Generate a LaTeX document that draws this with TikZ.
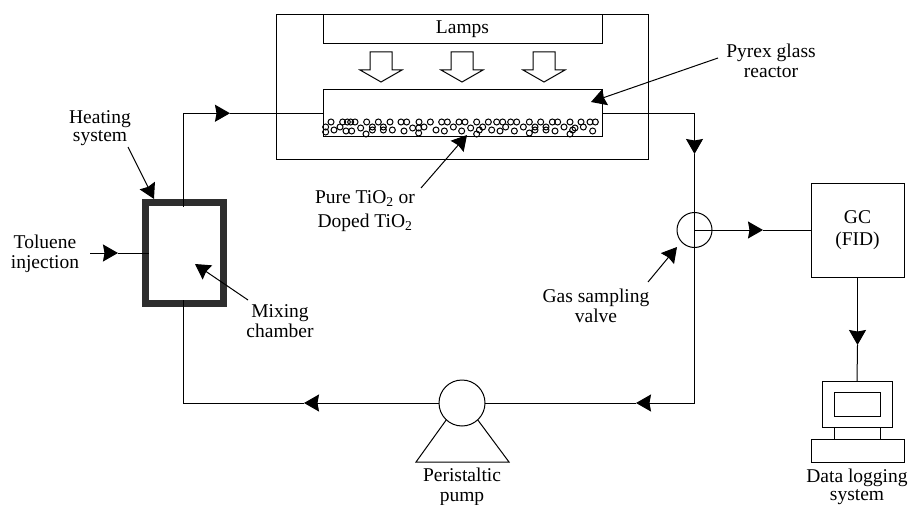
\documentclass[tikz,border=0pt]{standalone}
\usepackage{fontspec}
\setmainfont{Liberation Serif}
\usetikzlibrary{arrows.meta}
\begin{document}
\begin{tikzpicture}[x=1pt,y=-1pt,line width=1pt,
    arrow/.style = {-{Stealth[length=15pt,width=17pt,inset=1.5pt]}},
    box/.style = {draw,inner sep=0pt,outer sep=0pt},
    lbl/.style = {align=center,inner sep=0pt,font=\fontsize{19.5}{20}\selectfont},
    bead/.style = {line width=1pt}]
    \useasboundingbox (0,0) rectangle (909,505);

    \node[box,minimum width=372pt,minimum height=145.5pt] (housing) at (462,87.25) {};
    \node[box,minimum width=279pt,minimum height=29.5pt,lbl] (lamps) at (462.5,29.25) {Lamps};
    \node[box,minimum width=279pt,minimum height=46.5pt] (reactor) at (462.5,113.25) {};
    \foreach \cx in {381,462,544}
        \draw[shift={(\cx,0)}] (-11,52) -- (11,52) -- (11,70) -- (21,70) -- (0,82) -- (-21,70) -- (-11,70) -- cycle;

    \foreach \bx in {213,248,262,272,285,320,355,390,423,440,477,511,545,562,597,615,650,685,710,728,752,770,808,842,877,893,930,963,990,1006}
        \draw[bead] ({260+\bx/3},122) circle (3pt);
    \foreach \bx/\by in {197/127,197/132,222/130,240/127,258/131,275/131,302/128,318/134,337/130,337/127,370/130,370/127,397/130,432/131,458/128,476/133,476/128,492/127,528/130,553/131,580/127,605/131,632/128,650/134,658/130,668/127,695/130,720/131,737/127,763/131,790/127,808/133,825/130,825/127,858/130,858/127,885/131,912/127,930/134,938/130,945/128,970/127,998/131}
        \draw[bead] ({260+\bx/3},\by) circle (3pt);

    \node[box,draw=black!82,line width=7pt,minimum width=78pt,minimum height=101pt] (chamber) at (184.5,253) {};
    \node[box,circle,minimum size=35pt] (valve) at (694.5,230) {};
    \node[box,circle,minimum size=46pt] (pump) at (462,403) {};
    \node[box,minimum width=93pt,minimum height=94pt,lbl] (gc) at (857.5,230) {GC\\[2pt](FID)};
    \node[box,minimum width=70pt,minimum height=46pt] (monitor) at (857,404) {};
    \node[box,minimum width=46pt,minimum height=24pt] (screen) at (857,404) {};
    \node[box,minimum width=93pt,minimum height=23pt] (keyboard) at (857.5,450.5) {};

    \coordinate (chambertop) at (183,207);
    \coordinate (chamberbot) at (183,300);
    \coordinate (cornertl) at (183,113.25);
    \coordinate (cornerbl) at (183,403);
    \coordinate (cornertr) at (694.5,113.25);
    \coordinate (cornerbr) at (694.5,403);
    \coordinate (tiptop) at (230,113.25);
    \coordinate (tipdown) at (694.5,154);
    \coordinate (tipright) at (636,403);
    \coordinate (tipleft) at (304,403);
    \coordinate (tipgc) at (763,230);
    \coordinate (tiplog) at (857.5,345);
    \coordinate (tolstart) at (90,253);
    \coordinate (tolend) at (118,253);
    \coordinate (tolin) at (149,253);

    \draw[arrow] (chambertop) -- (cornertl) -- (tiptop);
    \draw (tiptop) -- (reactor.west);
    \draw[arrow] (reactor.east) -- (cornertr) -- (tipdown);
    \draw (tipdown) -- (valve.center) -- (cornerbr);
    \draw[arrow] (cornerbr) -- (tipright);
    \draw (tipright) -- (pump.east);
    \draw[arrow] (pump.west) -- (tipleft);
    \draw (tipleft) -- (cornerbl) -- (chamberbot);
    \draw[arrow] (valve.center) -- (tipgc);
    \draw (tipgc) -- (gc.west);
    \draw[arrow] (gc.south) -- (tiplog);
    \draw (tiplog) -- (monitor.north);
    \draw[arrow] (tolstart) -- (tolend);
    \draw (tolend) -- (tolin);

    \coordinate (pumpl) at (416,462);
    \coordinate (pumpr) at (509,462);
    \draw (pump.227) -- (pumpl) -- (pumpr) -- (pump.313);
    \coordinate (neckl) at (834,427);
    \coordinate (neckr) at (880,427);
    \draw (neckl) -- (neckl |- keyboard.north);
    \draw (neckr) -- (neckr |- keyboard.north);

    \node[lbl] (toluene) at (45,253.5) {Toluene\\injection};
    \node[lbl] (heating) at (100,128) {Heating\\[-2pt]system};
    \node[lbl] (mixing) at (280,321) {Mixing\\chamber};
    \node[lbl] (tio) at (365,211) {Pure TiO\textsubscript{2} or\\[4pt]Doped TiO\textsubscript{2}};
    \node[lbl] (pyrex) at (771,61) {Pyrex glass\\reactor};
    \node[lbl] (gas) at (596,306) {Gas sampling\\valve};
    \node[lbl] (peristaltic) at (462,487) {Peristaltic\\pump};
    \node[lbl] (logging) at (857,486.5) {Data logging\\[-2pt]system};

    \coordinate (heatstart) at (128,147);
    \coordinate (heattip) at (154,199);
    \coordinate (mixstart) at (248,300);
    \coordinate (mixtip) at (195,264);
    \coordinate (tiostart) at (421,188);
    \coordinate (tiotip) at (467,135);
    \coordinate (pyrexstart) at (718,58);
    \coordinate (pyrextip) at (591,102);
    \coordinate (gasstart) at (648,282);
    \coordinate (gastip) at (677,247);
    \draw[arrow] (heatstart) -- (heattip);
    \draw[arrow] (mixstart) -- (mixtip);
    \draw[arrow] (tiostart) -- (tiotip);
    \draw[arrow] (pyrexstart) -- (pyrextip);
    \draw[arrow] (gasstart) -- (gastip);
\end{tikzpicture}
\end{document}
